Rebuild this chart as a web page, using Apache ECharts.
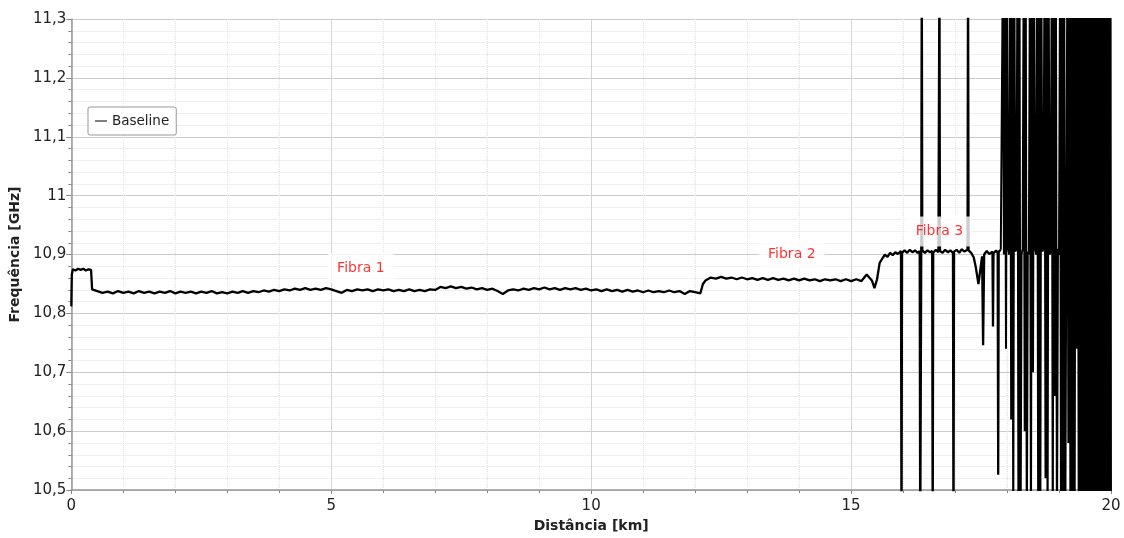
<!DOCTYPE html>
<html>
<head>
<meta charset="utf-8">
<script src="https://cdn.jsdelivr.net/npm/echarts@6.0.0/dist/echarts.min.js"></script>
<style>
    html, body { margin: 0; padding: 0; background: #fff; }
    #main { width: 1124px; height: 538px; }
</style>
</head>
<body>
<div id="main"></div>
<script>
// trecho inicial (0 - 0.4 km)
var inicioDist = [0, 0.01, 0.03, 0.08, 0.13, 0.18, 0.23, 0.28, 0.33, 0.38];
var inicioFreq = [10.812, 10.866, 10.875, 10.873, 10.876, 10.874, 10.876, 10.873, 10.875, 10.874];

// fibra 1: de 0.4 km a 12.1 km, amostras a cada 0.1 km
var fibra1Inicio = 0.4, fibra1Passo = 0.1;
var fibra1Freq = [
    10.841, 10.838, 10.835, 10.837, 10.834, 10.838, 10.835, 10.837, 10.834, 10.838,
    10.835, 10.837, 10.834, 10.837, 10.835, 10.838, 10.834, 10.837, 10.835, 10.837,
    10.834, 10.837, 10.835, 10.838, 10.834, 10.836, 10.834, 10.837, 10.835, 10.838,
    10.835, 10.838, 10.836, 10.839, 10.837, 10.840, 10.838, 10.841, 10.839, 10.842,
    10.840, 10.843, 10.840, 10.842, 10.840, 10.843, 10.841, 10.838, 10.835, 10.840,
    10.838, 10.841, 10.839, 10.841, 10.838, 10.841, 10.839, 10.841, 10.838, 10.840,
    10.838, 10.841, 10.838, 10.840, 10.838, 10.841, 10.840, 10.845, 10.843, 10.846,
    10.843, 10.845, 10.842, 10.844, 10.841, 10.843, 10.840, 10.842, 10.838, 10.833,
    10.839, 10.841, 10.839, 10.842, 10.840, 10.843, 10.841, 10.844, 10.841, 10.843,
    10.840, 10.843, 10.841, 10.843, 10.840, 10.842, 10.839, 10.841, 10.838, 10.841,
    10.838, 10.840, 10.837, 10.840, 10.837, 10.839, 10.836, 10.839, 10.836, 10.838,
    10.836, 10.839, 10.836, 10.838, 10.833, 10.838, 10.836, 10.834
];

// degrau entre fibra 1 e fibra 2
var degrauDist = [12.15];
var degrauFreq = [10.850];

// fibra 2: de 12.2 km a 15.4 km
var fibra2Inicio = 12.2, fibra2Passo = 0.1;
var fibra2Freq = [
    10.856, 10.861, 10.859, 10.862, 10.859, 10.861, 10.858, 10.861, 10.858, 10.860,
    10.857, 10.860, 10.857, 10.860, 10.857, 10.859, 10.856, 10.859, 10.856, 10.859,
    10.856, 10.858, 10.855, 10.858, 10.856, 10.858, 10.855, 10.858, 10.855, 10.858,
    10.855, 10.866, 10.856
];

// fibra 3 (com picos)
var fibra3Dist = [
    15.45, 15.50, 15.55, 15.60, 15.65, 15.70, 15.75, 15.80, 15.85, 15.90,
    15.96, 15.97, 15.98, 16.03, 16.08, 16.13, 16.18, 16.23, 16.28, 16.32,
    16.33, 16.34, 16.35, 16.36, 16.37, 16.42, 16.47, 16.52, 16.56, 16.57,
    16.58, 16.63, 16.68, 16.70, 16.71, 16.76, 16.81, 16.86, 16.91, 16.96,
    16.97, 16.98, 17.03, 17.08, 17.13, 17.18, 17.24, 17.25, 17.26, 17.31,
    17.36, 17.40, 17.45, 17.48, 17.52, 17.54, 17.56, 17.61, 17.66, 17.72,
    17.73, 17.74, 17.79, 17.82, 17.83, 17.84, 17.88
];
var fibra3Freq = [
    10.843, 10.858, 10.886, 10.893, 10.900, 10.896, 10.903, 10.899, 10.904, 10.901,
    10.906, 10.40, 10.903, 10.907, 10.903, 10.908, 10.904, 10.907, 10.903, 10.906,
    10.40, 10.40, 10.905, 11.40, 10.907, 10.903, 10.907, 10.904, 10.906, 10.40,
    10.903, 10.908, 10.904, 11.40, 10.906, 10.903, 10.908, 10.904, 10.907, 10.903,
    10.40, 10.905, 10.908, 10.903, 10.909, 10.905, 10.908, 11.40, 10.907, 10.903,
    10.895, 10.878, 10.850, 10.870, 10.897, 10.746, 10.900, 10.906, 10.901, 10.905,
    10.778, 10.902, 10.907, 10.903, 10.526, 10.905, 10.908
];

// fim da fibra: ruido (17.9 km a 19.4 km a cada 0.02 km)
var ruidoAInicio = 17.90, ruidoAPasso = 0.02;
var ruidoAFreq = [
    10.905, 11.40, 10.90, 11.40, 10.74, 11.40, 10.91, 10.90, 11.40, 10.62,
    11.40, 10.40, 11.40, 10.905, 10.91, 11.40, 10.40, 11.40, 10.40, 10.90,
    10.91, 11.40, 10.60, 11.40, 10.40, 10.905, 10.90, 11.40, 10.40, 11.40,
    10.70, 11.40, 10.91, 10.90, 11.40, 10.40, 11.40, 10.40, 11.40, 10.905,
    10.91, 11.40, 10.52, 11.40, 10.40, 11.40, 10.90, 10.905, 11.40, 10.40,
    11.40, 10.66, 11.40, 10.40, 10.91, 10.90, 11.40, 10.40, 11.40, 10.40,
    11.40, 10.40, 10.905, 11.40, 10.58, 11.40, 10.40, 11.40, 10.40, 11.40,
    10.40, 11.40, 10.74, 11.40, 10.40, 11.40
];

// 19.41 km a 20 km a cada 0.01 km
var ruidoBInicio = 19.41, ruidoBPasso = 0.01;
var ruidoBFreq = [
    11.40, 10.40, 11.40, 10.40, 11.40, 10.40, 11.40, 10.60, 11.40, 10.40,
    11.40, 10.40, 11.40, 10.40, 11.10, 10.40, 11.40, 10.40, 11.40, 10.40,
    11.40, 10.40, 11.40, 10.55, 11.40, 10.40, 11.40, 10.40, 11.40, 10.40,
    11.40, 10.40, 11.40, 10.40, 11.40, 10.40, 11.40, 10.70, 11.40, 10.40,
    11.40, 10.40, 11.40, 10.40, 11.40, 10.40, 11.40, 10.40, 11.40, 10.40,
    11.40, 10.40, 11.40, 10.40, 11.40, 10.40, 11.40, 10.40, 11.40, 10.40
];

// rotulos das fibras
var rotuloTexto = ['Fibra 1', 'Fibra 2', 'Fibra 3'];
var rotuloDist = [5.57, 13.86, 16.70];
var rotuloFreq = [10.877, 10.901, 10.939];

function serie(inicio, passo, valores) {
    return valores.map(function (v, i) {
        return [+(inicio + i * passo).toFixed(3), v];
    });
}
function pares(dist, freq) {
    return dist.map(function (d, i) {
        return [d, freq[i]];
    });
}

var tracoFibras = [].concat(
    pares(inicioDist, inicioFreq),
    serie(fibra1Inicio, fibra1Passo, fibra1Freq),
    pares(degrauDist, degrauFreq),
    serie(fibra2Inicio, fibra2Passo, fibra2Freq),
    pares(fibra3Dist, fibra3Freq)
);
// o ruido continua a partir do ultimo ponto da fibra 3
var tracoRuido = [].concat(
    [tracoFibras[tracoFibras.length - 1]],
    serie(ruidoAInicio, ruidoAPasso, ruidoAFreq),
    serie(ruidoBInicio, ruidoBPasso, ruidoBFreq)
);

var rotulos = rotuloTexto.map(function (t, i) {
    return [rotuloDist[i], rotuloFreq[i], t];
});

var fonte = 'DejaVu Sans';
var myChart = echarts.init(document.getElementById('main'));
myChart.setOption({
    animation: false,
    textStyle: { fontFamily: fonte },
    grid: { left: 70, right: 13, top: 19, bottom: 46 },
    legend: {
        data: ['Baseline'],
        left: 88,
        top: 107,
        padding: [7, 7],
        icon: 'rect',
        itemWidth: 12,
        itemHeight: 1,
        itemGap: 5,
        backgroundColor: '#fff',
        borderColor: '#999',
        borderWidth: 1,
        borderRadius: 2,
        textStyle: { fontFamily: fonte, fontSize: 13.5, color: '#222' }
    },
    xAxis: {
        type: 'value',
        min: 0,
        max: 20,
        interval: 5,
        name: 'Distância [km]',
        nameLocation: 'middle',
        nameGap: 24,
        nameTextStyle: { fontFamily: fonte, fontWeight: 'bold', fontSize: 14, color: '#222' },
        axisLine: { lineStyle: { color: '#999', width: 1.5 } },
        axisTick: { length: 4, lineStyle: { color: '#888' } },
        minorTick: { show: true, splitNumber: 5, length: 3, lineStyle: { color: '#888' } },
        axisLabel: { fontFamily: fonte, fontSize: 15, color: '#222', margin: 9 },
        splitLine: { show: true, lineStyle: { color: '#d4d4d4' } },
        minorSplitLine: { show: true, lineStyle: { color: '#e4e4e4', type: 'dotted' } }
    },
    yAxis: {
        type: 'value',
        min: 10.5,
        max: 11.3,
        interval: 0.1,
        name: 'Frequência [GHz]',
        nameLocation: 'middle',
        nameGap: 42,
        nameTextStyle: { fontFamily: fonte, fontWeight: 'bold', fontSize: 14, color: '#222' },
        axisLine: { show: true, lineStyle: { color: '#999', width: 1.5 } },
        axisTick: { show: true, length: 5, lineStyle: { color: '#888' } },
        minorTick: { show: true, splitNumber: 5, length: 3, lineStyle: { color: '#888' } },
        axisLabel: {
            fontFamily: fonte, fontSize: 15, color: '#222', margin: 5,
            formatter: function (v) {
                return String(Math.round(v * 10) / 10).replace('.', ',');
            }
        },
        splitLine: { show: true, lineStyle: { color: '#cccccc' } },
        minorSplitLine: { show: true, lineStyle: { color: '#e0e0e0', type: 'dotted' } }
    },
    series: [
        {
            name: 'Baseline',
            type: 'line',
            data: tracoFibras,
            showSymbol: false,
            symbol: 'none',
            sampling: null,
            clip: true,
            lineStyle: { color: '#000', width: 2.3 },
            itemStyle: { color: '#000' },
            z: 3
        },
        {
            name: 'Baseline',
            type: 'line',
            data: tracoRuido,
            showSymbol: false,
            symbol: 'none',
            sampling: null,
            clip: true,
            lineStyle: { color: '#000', width: 2 },
            itemStyle: { color: '#000' },
            z: 3
        },
        {
            name: 'rotulos',
            type: 'scatter',
            data: rotulos,
            symbolSize: 1,
            itemStyle: { color: 'rgba(0,0,0,0)' },
            z: 6,
            label: {
                show: true,
                position: 'inside',
                formatter: function (p) { return p.value[2]; },
                fontFamily: fonte,
                fontSize: 14,
                color: '#ff0000',
                backgroundColor: '#fff',
                padding: [8, 9]
            }
        }
    ]
});
</script>
</body>
</html>
